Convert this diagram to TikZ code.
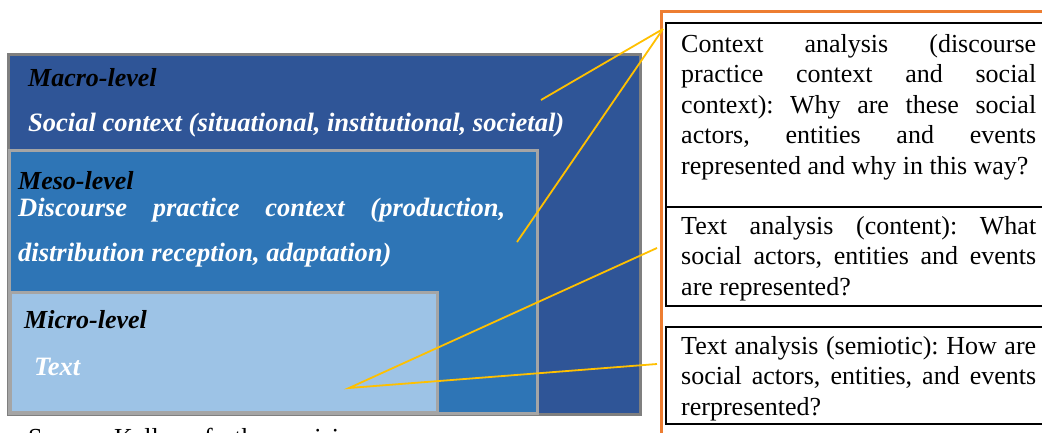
\documentclass[tikz,border=0pt]{standalone}
\usepackage{fontspec}
\setmainfont{Liberation Serif}
\frenchspacing
\definecolor{macroc}{HTML}{2F5597}
\definecolor{mesoc}{HTML}{2E75B6}
\definecolor{microc}{HTML}{9DC3E6}
\definecolor{edgedark}{HTML}{7F7F7F}
\definecolor{edgelight}{HTML}{A5A5A5}
\definecolor{framec}{HTML}{ED7D31}
\definecolor{linkc}{HTML}{FFC000}
\newcommand{\jline}[2]{\makebox[#1][s]{#2}}
\begin{document}
\begin{tikzpicture}[x=1pt,y=-1pt,
  levelbox/.style={line width=3pt},
  lvltitle/.style={anchor=base west, inner sep=0pt, text=black, font=\fontsize{26}{30}\selectfont\bfseries\itshape},
  lvltext/.style={anchor=base west, inner sep=0pt, text=white, font=\fontsize{26.5}{45}\selectfont\bfseries\itshape, align=left},
  qbox/.style={line width=2.5pt, draw=black},
  qtext/.style={anchor=base west, inner sep=0pt, text width=355pt, align=justify, font=\fontsize{26}{30.5}\selectfont\frenchspacing},
  link/.style={draw=linkc, line width=1.8pt}]
\useasboundingbox (0,0) rectangle (1042,432);
\clip (0,0) rectangle (1042,432);
\fill[white] (0,0) rectangle (1042,432);
% nested levels
\draw[levelbox, fill=macroc, draw=edgedark] (8,54) rectangle (640,414);
\draw[levelbox, fill=mesoc, draw=edgelight] (9,150) rectangle (537,413);
\draw[levelbox, fill=microc, draw=edgelight] (10,292) rectangle (437,412);
% level texts
\node[lvltitle] (macrot) at (28,86) {Macro-level};
\node[lvltext] (macrox) at (28,131) {Social context (situational, institutional, societal)};
\node[lvltitle] (mesot) at (18,189) {Meso-level};
\node[lvltext] (mesox) at (18,261) {\jline{487pt}{Discourse practice context (production,}\\distribution reception, adaptation)};
\node[lvltitle] (microt) at (24,328) {Micro-level};
\node[lvltext] (microx) at (34,375) {Text};
% right frame and boxes
\draw[framec, line width=3pt] (661,11) rectangle (1070,460);
\draw[qbox] (666,23) rectangle (1070,207);
\draw[qbox] (666,207) rectangle (1070,306);
\draw[qbox] (666,327) rectangle (1070,424);
\node[qtext] (q1) at (681,52) {\jline{355pt}{Context analysis (discourse}\\\jline{355pt}{practice context and social}\\\jline{355pt}{context): Why are these social}\\\jline{355pt}{actors, entities and events}\\represented and why in this way?};
\node[qtext] (q2) at (681,234) {\jline{355pt}{Text analysis (content): What}\\\jline{355pt}{social actors, entities and events}\\are represented?};
\node[qtext] (q3) at (681,354) {\jline{355pt}{Text analysis (semiotic): How are}\\\jline{355pt}{social actors, entities, and events}\\rerpresented?};
% connectors
\coordinate (ctxpt) at (663,29);
\coordinate (macropt) at (541,100);
\coordinate (mesopt) at (517,242);
\coordinate (micropt) at (349,388);
\coordinate (q2pt) at (657,248);
\coordinate (q3pt) at (657,364);
\draw[link] (ctxpt) -- (macropt);
\draw[link] (ctxpt) -- (mesopt);
\draw[link] (q2pt) -- (micropt) -- (q3pt);
% source line (cut off at bottom)
\node[anchor=base west, inner sep=0pt, font=\fontsize{26}{30}\selectfont] (src) at (28,446) {Source: Kellner, further revision};
\end{tikzpicture}
\end{document}
